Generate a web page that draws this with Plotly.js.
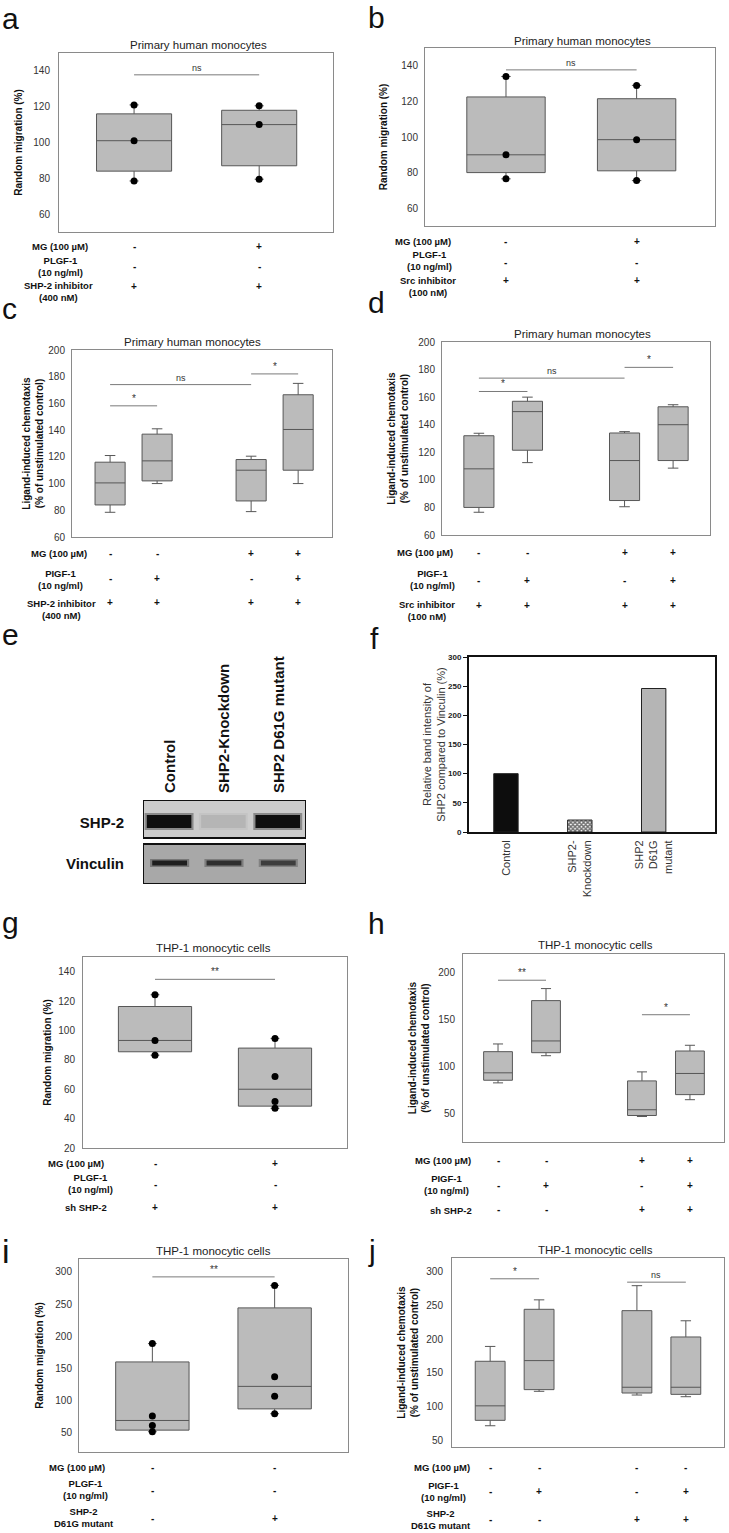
<!DOCTYPE html>
<html><head><meta charset="utf-8">
<script src="https://cdn.plot.ly/plotly-3.0.1.min.js"></script>
<style>html,body{margin:0;padding:0;background:#fff}</style>
</head><body><div id="chart" style="width:729px;height:1533px"></div>
<script>
// ---------------- DATA ----------------
const titlePrimary = 'Primary human monocytes';
const titleTHP = 'THP-1 monocytic cells';
const yRandom = 'Random migration (%)';
const yLigand = 'Ligand-induced chemotaxis<br>(% of unstimulated control)';

// panel a
const aPos = [1, 2];
const aQ1 = [84, 87], aMed = [101, 110], aQ3 = [116, 118], aLo = [78.5, 79.5], aHi = [121, 120.5];
const aPtsX = [1, 1, 1, 2, 2, 2], aPtsY = [78.5, 101, 121, 79.5, 110, 120.5];
const aBr = [[1, 2, 137.8, 'ns']];
const aRows = ['MG (100 µM)', 'PLGF-1<br>(10 ng/ml)', 'SHP-2 inhibitor<br>(400 nM)'];
const aMG = ['-', '+'], aPL = ['-', '-'], aInh = ['+', '+'];

// panel b
const bPos = [1, 2];
const bQ1 = [80, 81], bMed = [90, 98.5], bQ3 = [122.5, 121.5], bLo = [76.5, 75.5], bHi = [134, 129];
const bPtsX = [1, 1, 1, 2, 2, 2], bPtsY = [76.5, 90, 134, 75.5, 98.5, 129];
const bBr = [[1, 2, 137.7, 'ns']];
const bRows = ['MG (100 µM)', 'PLGF-1<br>(10 ng/ml)', 'Src inhibitor<br>(100 nM)'];
const bMG = ['-', '+'], bPL = ['-', '-'], bInh = ['+', '+'];

// panel c
const cPos = [1, 2, 4, 5];
const cQ1 = [84, 102, 87, 110], cMed = [100.5, 117, 110, 140.5], cQ3 = [116, 137, 118, 166.5];
const cLo = [78.5, 100, 79, 100], cHi = [121, 141, 120.5, 175];
const cBr = [[1, 2, 158.2, '*'], [1, 4, 174.1, 'ns'], [4, 5, 182.1, '*']];
const cRows = ['MG (100 µM)', 'PIGF-1<br>(10 ng/ml)', 'SHP-2 inhibitor<br>(400 nM)'];
const cMG = ['-', '-', '+', '+'], cPI = ['-', '+', '-', '+'], cInh = ['+', '+', '+', '+'];

// panel d
const dPos = [1, 2, 4, 5];
const dQ1 = [80, 121.5, 85, 114], dMed = [108, 149.5, 114, 140], dQ3 = [132, 157, 134, 153];
const dLo = [76.5, 112.5, 80.5, 108.5], dHi = [133.8, 160, 135, 154.5];
const dBr = [[1, 2, 164.1, '*'], [1, 4, 173.8, 'ns'], [4, 5, 181.6, '*']];
const dRows = ['MG (100 µM)', 'PIGF-1<br>(10 ng/ml)', 'Src inhibitor<br>(100 nM)'];
const dMG = ['-', '-', '+', '+'], dPI = ['-', '+', '-', '+'], dInh = ['+', '+', '+', '+'];

// panel e (western blot)
const eLanes = ['Control', 'SHP2-Knockdown', 'SHP2 D61G mutant'];
const eRowsLbl = ['SHP-2', 'Vinculin'];
const eShp2Band = [1.0, 0.12, 1.0];
const eVincBand = [0.9, 0.8, 0.7];

// panel f
const fCats = ['Control', 'SHP2-<br>Knockdown', 'SHP2<br>D61G<br>mutant'];
const fVals = [100, 20.5, 246];
const fYTitle = 'Relative band intensity of<br>SHP2 compared to Vinculin (%)';

// panel g
const gPos = [1, 2];
const gQ1 = [85.5, 48.5], gMed = [93.2, 60], gQ3 = [116.3, 88], gLo = [83.2, 47], gHi = [124.3, 94.6];
const gPtsX = [1, 1, 1, 2, 2, 2, 2], gPtsY = [124.3, 93.2, 83.2, 94.6, 68.7, 51.7, 47];
const gBr = [[1, 2, 134.8, '**']];
const gRows = ['MG (100 µM)', 'PLGF-1<br>(10 ng/ml)', 'sh SHP-2'];
const gMG = ['-', '+'], gPL = ['-', '-'], gSh = ['+', '+'];

// panel h
const hPos = [1, 2, 4, 5];
const hQ1 = [85.7, 115, 48.2, 70.4], hMed = [93.6, 127.5, 54.3, 92.9], hQ3 = [116.1, 170.4, 85, 116.8];
const hLo = [82.9, 111.8, 47.1, 65], hHi = [124.3, 183.2, 94.6, 122.9];
const hBr = [[1, 2, 192.1, '**'], [4, 5, 155.4, '*']];
const hRows = ['MG (100 µM)', 'PIGF-1<br>(10 ng/ml)', 'sh SHP-2'];
const hMG = ['-', '-', '+', '+'], hPI = ['-', '+', '-', '+'], hSh = ['-', '-', '+', '+'];

// panel i
const iPos = [1, 2];
const iQ1 = [54, 87], iMed = [69, 122], iQ3 = [160, 244], iLo = [51.5, 79.5], iHi = [188.5, 279];
const iPtsX = [1, 1, 1, 1, 2, 2, 2, 2], iPtsY = [188.5, 76, 61, 51.5, 279, 137, 106.5, 79.5];
const iBr = [[1, 2, 292.2, '**']];
const iRows = ['MG (100 µM)', 'PLGF-1<br>(10 ng/ml)', 'SHP-2<br>D61G mutant'];
const iMG = ['-', '-'], iPL = ['-', '-'], iMut = ['-', '+'];

// panel j
const jPos = [1, 2, 4, 5];
const jQ1 = [79.5, 125, 120, 118], jMed = [101, 168, 128.5, 128.5], jQ3 = [167, 244, 242, 203];
const jLo = [71.5, 122.5, 117, 114.5], jHi = [189, 258, 279, 227];
const jBr = [[1, 2, 289.2, '*'], [3.8, 5, 284.2, 'ns']];
const jRows = ['MG (100 µM)', 'PIGF-1<br>(10 ng/ml)', 'SHP-2<br>D61G mutant'];
const jMG = ['-', '-', '-', '-'], jPI = ['-', '+', '-', '+'], jMut = ['-', '-', '+', '+'];

// ---------------- LAYOUT HELPERS ----------------
const W = 729, H = 1533;
const FONT = '"Liberation Sans", Arial, Helvetica, sans-serif';
const traces = [], shapes = [], ann = [];
const layout = {
  width: W, height: H, margin: {l: 0, r: 0, t: 0, b: 0},
  paper_bgcolor: '#fff', plot_bgcolor: '#fff', showlegend: false,
  font: {family: FONT, color: '#222'}
};
function px2x(p) { return p / W; }
function px2y(p) { return 1 - p / H; }
function ids(n) { const s = n === 1 ? '' : String(n); return {xa: 'x' + s, ya: 'y' + s, xn: 'xaxis' + s, yn: 'yaxis' + s}; }

function letter(t, x, y, size) {
  ann.push({text: t, xref: 'paper', yref: 'paper', x: px2x(x), y: px2y(y), xanchor: 'left', yanchor: 'middle',
    showarrow: false, font: {size: size || 30, color: '#111', family: FONT}});
}

function boxPanel(p) {
  const id = ids(p.n);
  layout[id.xn] = {domain: [px2x(p.L), px2x(p.R)], range: p.xr, anchor: id.ya, showline: true, mirror: true,
    linecolor: '#8a8a8a', linewidth: 1, showticklabels: false, ticks: '', showgrid: false, zeroline: false};
  layout[id.yn] = {domain: [px2y(p.B), px2y(p.T)], range: p.yr, anchor: id.xa, dtick: p.dtick, showline: true,
    mirror: true, linecolor: '#8a8a8a', linewidth: 1, ticks: '', showgrid: false, zeroline: false,
    ticklabelstandoff: p.tls, tickfont: {size: 10, color: '#333', family: FONT},
    title: {text: p.ytitle, standoff: p.ts, font: {size: 10, color: '#111', family: FONT, weight: 'bold'}}};
  traces.push({type: 'box', xaxis: id.xa, yaxis: id.ya, x: p.pos, q1: p.q1, median: p.med, q3: p.q3,
    lowerfence: p.lo, upperfence: p.hi, width: p.bw, whiskerwidth: p.ww, boxpoints: false,
    fillcolor: '#bbbbbb', line: {color: '#575757', width: 1}, hoverinfo: 'skip', showlegend: false});
  if (p.ptsX) traces.push({type: 'scatter', mode: 'markers', xaxis: id.xa, yaxis: id.ya, x: p.ptsX, y: p.ptsY,
    marker: {color: '#000', size: 7}, hoverinfo: 'skip', showlegend: false});
  p.br.forEach(b => {
    shapes.push({type: 'line', xref: id.xa, yref: id.ya, x0: b[0], x1: b[1], y0: b[2], y1: b[2],
      line: {color: '#7a7a7a', width: 1}});
    ann.push({text: b[3], xref: id.xa, yref: id.ya, x: (b[0] + b[1]) / 2, y: b[2], xanchor: 'center', yanchor: 'bottom',
      showarrow: false, font: {size: b[3] === 'ns' ? 9 : 10, color: '#333', family: FONT}});
  });
  ann.push({text: p.title, xref: 'paper', yref: 'paper', x: px2x(p.titleX || (p.L + p.R) / 2), y: px2y(p.titleY),
    xanchor: 'center', yanchor: 'middle', showarrow: false, font: {size: 11.5, color: '#222', family: FONT}});
  p.rows.forEach((r, k) => {
    ann.push({text: r, xref: 'paper', yref: 'paper', x: px2x(p.rowX[k]), y: px2y(p.rowY[k]), xanchor: 'center',
      yanchor: 'middle', align: 'center', showarrow: false,
      font: {size: 9.5, color: '#111', family: FONT, weight: 'bold'}});
    p.signs[k].forEach((s, m) => {
      ann.push({text: s, xref: id.xa, yref: 'paper', x: p.pos[m], y: px2y(p.signY[k]), xanchor: 'center', yanchor: 'middle',
        showarrow: false, font: {size: 10, color: '#111', family: FONT, weight: 'bold'}});
    });
  });
  letter(p.key, p.lx, p.ly, p.lsize);
}

const panels = [
  {n: 1, key: 'a', lx: 0, ly: 18, L: 59, R: 333, T: 53, B: 232, xr: [0.4, 2.59], yr: [50, 150], dtick: 20, bw: 0.6, ww: 0.12, tls: 6, ts: 8,
   title: titlePrimary, titleX: 198, titleY: 45, ytitle: yRandom, pos: aPos, q1: aQ1, med: aMed, q3: aQ3, lo: aLo, hi: aHi, ptsX: aPtsX, ptsY: aPtsY, br: aBr,
   rows: aRows, rowX: [60, 60, 58], rowY: [247, 266.5, 291.5], signs: [aMG, aPL, aInh], signY: [247, 267, 286]},
  {n: 2, key: 'b', lx: 366, ly: 17, L: 425, R: 715, T: 48, B: 226, xr: [0.38, 2.6], yr: [50, 150], dtick: 20, bw: 0.6, ww: 0.12, tls: 4, ts: 11,
   title: titlePrimary, titleX: 582, titleY: 41, ytitle: yRandom, pos: bPos, q1: bQ1, med: bMed, q3: bQ3, lo: bLo, hi: bHi, ptsX: bPtsX, ptsY: bPtsY, br: bBr,
   rows: bRows, rowX: [423, 429, 428], rowY: [241, 260.5, 286], signs: [bMG, bPL, bInh], signY: [241, 262, 280]},
  {n: 3, key: 'c', lx: 0, ly: 308, L: 72, R: 332, T: 350, B: 537, xr: [0.19, 5.72], yr: [60, 200], dtick: 20, bw: 0.64, ww: 0.35, tls: 4, ts: 2,
   title: titlePrimary, titleX: 193, titleY: 342, ytitle: yLigand, pos: cPos, q1: cQ1, med: cMed, q3: cQ3, lo: cLo, hi: cHi, br: cBr,
   rows: cRows, rowX: [59, 60, 61], rowY: [553, 579.5, 609], signs: [cMG, cPI, cInh], signY: [553, 579, 603]},
  {n: 4, key: 'd', lx: 366, ly: 302, L: 442, R: 710, T: 342, B: 535, xr: [0.24, 5.76], yr: [60, 200], dtick: 20, bw: 0.62, ww: 0.35, tls: 4, ts: 7,
   title: titlePrimary, titleX: 582, titleY: 334, ytitle: yLigand, pos: dPos, q1: dQ1, med: dMed, q3: dQ3, lo: dLo, hi: dHi, br: dBr,
   rows: dRows, rowX: [425, 432, 427], rowY: [552, 579.5, 611], signs: [dMG, dPI, dInh], signY: [552, 580, 605]},
  {n: 7, key: 'g', lx: 0, ly: 922, L: 83, R: 347, T: 957, B: 1148, xr: [0.4, 2.6], yr: [20, 150], dtick: 20, bw: 0.61, ww: 0.12, tls: 5, ts: 4,
   title: titleTHP, titleX: 213, titleY: 948, ytitle: yRandom, pos: gPos, q1: gQ1, med: gMed, q3: gQ3, lo: gLo, hi: gHi, ptsX: gPtsX, ptsY: gPtsY, br: gBr,
   rows: gRows, rowX: [76, 90, 86], rowY: [1163, 1183.5, 1207], signs: [gMG, gPL, gSh], signY: [1163, 1184, 1207]},
  {n: 8, key: 'h', lx: 366, ly: 923, L: 463, R: 724, T: 954, B: 1142, xr: [0.27, 5.71], yr: [20, 220], dtick: 50, bw: 0.6, ww: 0.35, tls: 5, ts: 6,
   title: titleTHP, titleX: 595, titleY: 945, ytitle: yLigand, pos: hPos, q1: hQ1, med: hMed, q3: hQ3, lo: hLo, hi: hHi, br: hBr,
   rows: hRows, rowX: [443, 446, 451], rowY: [1160, 1184.5, 1210], signs: [hMG, hPI, hSh], signY: [1160, 1185, 1209]},
  {n: 9, key: 'i', lx: 0, ly: 1251, lsize: 34, L: 79, R: 348, T: 1259, B: 1452, xr: [0.4, 2.6], yr: [20, 320], dtick: 50, bw: 0.6, ww: 0.12, tls: 4, ts: 9,
   title: titleTHP, titleX: 213, titleY: 1251, ytitle: yRandom, pos: iPos, q1: iQ1, med: iMed, q3: iQ3, lo: iLo, hi: iHi, ptsX: iPtsX, ptsY: iPtsY, br: iBr,
   rows: iRows, rowX: [77, 85, 84], rowY: [1467, 1489, 1517.5], signs: [iMG, iPL, iMut], signY: [1467, 1490, 1518]},
  {n: 10, key: 'j', lx: 366, ly: 1250, L: 452, R: 724, T: 1258, B: 1447, xr: [0.22, 5.78], yr: [40, 320], dtick: 50, bw: 0.61, ww: 0.35, tls: 6, ts: 5,
   title: titleTHP, titleX: 595, titleY: 1250, ytitle: yLigand, pos: jPos, q1: jQ1, med: jMed, q3: jQ3, lo: jLo, hi: jHi, br: jBr,
   rows: jRows, rowX: [442, 443, 441], rowY: [1467, 1491, 1519], signs: [jMG, jPI, jMut], signY: [1467, 1491, 1519]}
];
panels.forEach(boxPanel);

// ---------------- PANEL e : blot ----------------
(function () {
  const id = ids(5);
  const L = 143, R = 306, T = 800, B = 884;
  layout[id.xn] = {domain: [px2x(L), px2x(R)], range: [-0.5, 2.5], anchor: id.ya, side: 'top', showline: false,
    showgrid: false, zeroline: false, ticks: '', tickvals: eLanes.map((_, k) => k), ticktext: eLanes, tickangle: -90,
    ticklabelstandoff: 6, tickfont: {size: 15, color: '#111', family: FONT, weight: 'bold'}};
  layout[id.yn] = {domain: [px2y(B), px2y(T)], range: [0, 84], anchor: id.xa, showline: false, showgrid: false,
    zeroline: false, ticks: '', tickvals: [61, 20], ticktext: eRowsLbl, ticklabelstandoff: 18,
    tickfont: {size: 15, color: '#111', family: FONT, weight: 'bold'}};
  traces.push({type: 'scatter', mode: 'markers', xaxis: id.xa, yaxis: id.ya, x: eLanes.map((_, k) => k), y: [0, 0, 0],
    marker: {opacity: 0}, hoverinfo: 'skip', showlegend: false});
  const boxes = [{y0: 46, y1: 84, bg: [204, 204, 204]}, {y0: 0, y1: 40, bg: [168, 168, 168]}];
  boxes.forEach(b => shapes.push({type: 'rect', xref: id.xa, yref: id.ya, x0: -0.5, x1: 2.5, y0: b.y0, y1: b.y1,
    fillcolor: `rgb(${b.bg.join(',')})`, line: {width: 0}, layer: 'below'}));
  function mix(bg, t) { const v = bg.map(c => Math.round(c * (1 - t) + 15 * t)); return `rgb(${v.join(',')})`; }
  eShp2Band.forEach((t, k) => {
    shapes.push({type: 'rect', xref: id.xa, yref: id.ya, x0: k - 0.47, x1: k + 0.43, y0: 54, y1: 71,
      fillcolor: mix(boxes[0].bg, t * 0.5), line: {width: 0}, opacity: 0.7});
    shapes.push({type: 'rect', xref: id.xa, yref: id.ya, x0: k - 0.43, x1: k + 0.39, y0: 56, y1: 69,
      fillcolor: mix(boxes[0].bg, t), line: {width: 0}});
  });
  eVincBand.forEach((t, k) => {
    shapes.push({type: 'rect', xref: id.xa, yref: id.ya, x0: k - 0.37, x1: k + 0.35, y0: 17, y1: 25,
      fillcolor: mix(boxes[1].bg, t * 0.5), line: {width: 0}, opacity: 0.7});
    shapes.push({type: 'rect', xref: id.xa, yref: id.ya, x0: k - 0.33, x1: k + 0.31, y0: 18.5, y1: 23.5,
      fillcolor: mix(boxes[1].bg, t), line: {width: 0}});
  });
  boxes.forEach(b => shapes.push({type: 'rect', xref: id.xa, yref: id.ya, x0: -0.5, x1: 2.5, y0: b.y0, y1: b.y1,
    fillcolor: 'rgba(0,0,0,0)', line: {width: 2, color: '#111'}}));
  letter('e', 0, 635);
})();

// ---------------- PANEL f : bars ----------------
(function () {
  const id = ids(6);
  const L = 469, R = 715, T = 657, B = 832;
  layout[id.xn] = {domain: [px2x(L), px2x(R)], type: 'category', range: [-0.5, 2.83], anchor: id.ya, showline: true,
    mirror: true, linecolor: '#111', linewidth: 2, ticks: '', showgrid: false, zeroline: false, tickangle: -90,
    ticklabelstandoff: 2, tickfont: {size: 11, color: '#333', family: FONT}};
  layout[id.yn] = {domain: [px2y(B), px2y(T)], range: [0, 300], dtick: 50, anchor: id.xa, showline: true, mirror: true,
    linecolor: '#111', linewidth: 2, ticks: 'outside', ticklen: 4, tickwidth: 1, tickcolor: '#111', showgrid: false,
    zeroline: false, tickfont: {size: 8, color: '#222', family: FONT, weight: 'bold'},
    title: {text: fYTitle, standoff: 0, font: {size: 11, color: '#333', family: FONT}}};
  traces.push({type: 'bar', xaxis: id.xa, yaxis: id.ya, x: fCats, y: fVals, width: 0.33,
    marker: {color: ['#0d0d0d', '#6e6e6e', '#b5b5b5'], line: {color: '#222', width: 1},
      pattern: {shape: ['', 'x', ''], fillmode: 'replace', fgcolor: '#000', bgcolor: '#ffffff', size: 3, solidity: 0.7}},
    hoverinfo: 'skip', showlegend: false});
  letter('f', 368, 638);
})();

layout.shapes = shapes;
layout.annotations = ann;
Plotly.newPlot('chart', traces, layout, {staticPlot: true, displayModeBar: false});
</script>
</body></html>
